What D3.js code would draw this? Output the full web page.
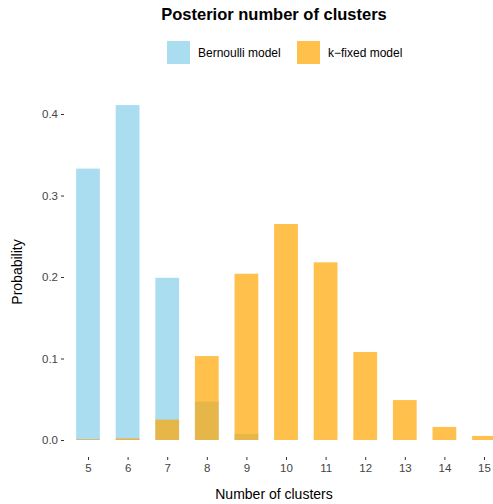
<!DOCTYPE html>
<html><head><meta charset="utf-8">
<script src="https://cdn.jsdelivr.net/npm/d3@7"></script>
<style>body{margin:0;background:#fff}svg{display:block}text{font-family:"Liberation Sans",Arial,sans-serif}</style>
</head><body><svg id="c" width="493" height="504"></svg>
<script>
const categories = [5,6,7,8,9,10,11,12,13,14,15];
const bernoulli = [0.333,0.411,0.199,0.047,0.0074,0,0,0,0,0,0];
const kfixed = [0.001,0.002,0.025,0.103,0.204,0.265,0.218,0.108,0.049,0.016,0.005];
const yTicks = [0,0.1,0.2,0.3,0.4];
const seriesNames = ["Bernoulli model","k\u2212fixed model"];
const colors = ["#87CEEB","#FFA500"];

const svg = d3.select("#c");
const x = d3.scaleLinear().domain([5,15]).range([88, 484]);
const step = x(6) - x(5);
const bw = step*0.6;
const y = d3.scaleLinear().domain([0,0.4]).range([440,114]);

const g = svg.append("g");
const data = categories.map((c,i)=>({c, b:bernoulli[i], k:kfixed[i]}));
g.selectAll("rect.b").data(data).join("rect").attr("class","b")
  .attr("x", d=>x(d.c)-bw/2).attr("width", bw)
  .attr("y", d=>y(d.b)).attr("height", d=>y(0)-y(d.b))
  .attr("fill", colors[0]).attr("fill-opacity",0.7);
g.selectAll("rect.k").data(data).join("rect").attr("class","k")
  .attr("x", d=>x(d.c)-bw/2).attr("width", bw)
  .attr("y", d=>y(d.k)).attr("height", d=>y(0)-y(d.k))
  .attr("fill", colors[1]).attr("fill-opacity",0.7);

// y axis
const ya = svg.append("g").attr("transform","translate(64,0)")
  .call(d3.axisLeft(y).tickValues(yTicks).tickFormat(d3.format(".1f")).tickSize(3).tickPadding(3));
ya.select(".domain").remove();
ya.selectAll("line").attr("stroke","#333").attr("stroke-width",1);
ya.selectAll("text").attr("fill","#444").style("font-size","11.5px");

// x axis
const xa = svg.append("g").attr("transform","translate(0,457)")
  .call(d3.axisBottom(x).tickValues(categories).tickFormat(d3.format("d")).tickSize(3).tickPadding(4));
xa.select(".domain").remove();
xa.selectAll("line").attr("stroke","#333");
xa.selectAll("text").attr("fill","#444").style("font-size","11.5px");

svg.append("text").attr("x",274).attr("y",20).attr("text-anchor","middle")
  .style("font-size","16.5px").style("font-weight","bold").attr("fill","#000").text("Posterior number of clusters");
svg.append("text").attr("x",274).attr("y",499).attr("text-anchor","middle")
  .style("font-size","14px").attr("fill","#000").text("Number of clusters");
svg.append("text").attr("transform","translate(22,272) rotate(-90)").attr("text-anchor","middle")
  .style("font-size","14px").attr("fill","#000").text("Probability");

// legend
const lx = [167, 297];
seriesNames.forEach((n,i)=>{
  svg.append("rect").attr("x",lx[i]).attr("y",41).attr("width",23).attr("height",23)
    .attr("fill",colors[i]).attr("fill-opacity",0.7);
  svg.append("text").attr("x",lx[i]+31).attr("y",56.5).style("font-size","12px").attr("fill","#000").text(n);
});
</script></body></html>
